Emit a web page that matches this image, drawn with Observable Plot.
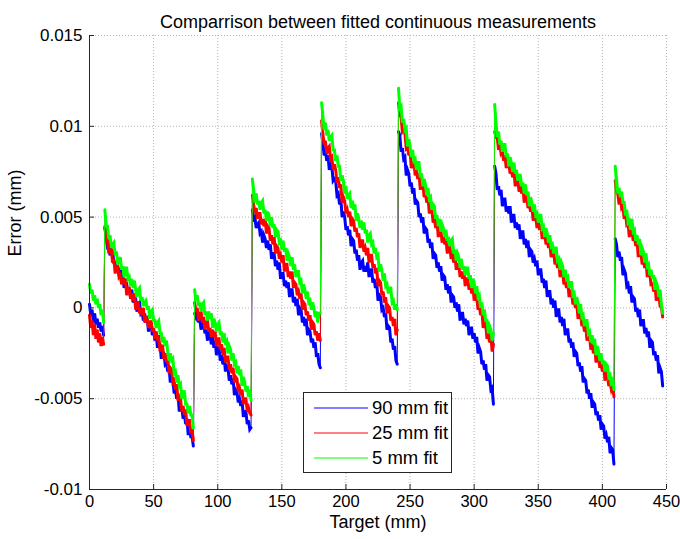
<!DOCTYPE html>
<html><head><meta charset="utf-8">
<script src="https://cdn.jsdelivr.net/npm/d3@7"></script>
<script src="https://cdn.jsdelivr.net/npm/@observablehq/plot@0.6"></script>
<style>
body{margin:0;background:#fff;}
#wrap{position:relative;width:680px;height:539px;font-family:"Liberation Sans",Arial,Helvetica,sans-serif;}
#legend{position:absolute;left:303px;top:392px;width:149px;height:81px;border:1px solid #262626;background:#fff;box-sizing:border-box;}
#legend .row{position:absolute;left:0;height:24px;width:147px;}
#legend svg{position:absolute;left:9px;top:0;}
#legend span{position:absolute;left:68px;top:1px;font-size:18.5px;line-height:22px;color:#000;white-space:nowrap;}
</style></head>
<body><div id="wrap"></div>
<script>
const chartTitle = "Comparrison between fitted continuous measurements";
const xLabel = "Target (mm)";
const yLabel = "Error (mm)";
const xTicks = [0, 50, 100, 150, 200, 250, 300, 350, 400, 450];
const yTicks = [-0.01, -0.005, 0, 0.005, 0.01, 0.015];
const seriesNames = ["90 mm fit", "25 mm fit", "5 mm fit"];
const seriesColors = ["#0000ff", "#ff0000", "#00ff00"];
// target (mm) where each continuous measurement run starts; samples every 1 mm
const segmentStart = [0, 12, 82, 127, 181, 241, 316, 410];
const targetStep = 1;

// Error (mm), 90 mm fit
const fit90 = [
[.0002,-.0004,-.0001,-.0008,-.0003,-.0009,-.0006,-.0011,-.0008,-.0013,-.001,-.0015],
[.0044,.004,.0034,.0035,.0029,.0032,.0031,.0025,.0025,.002,.0023,.0018,.0022,.0016,.0017,.0011,.0016,.0013,.0008,.0011,.0006,.001,.0003,.0006,.0005,-.0002,.0002,.0003,-.0003,-.0002,-.0007,-.0003,-.0008,-.0005,-.0013,-.0009,-.0009,-.0015,-.0012,-.0018,-.0014,-.0022,-.0019,-.002,-.0028,-.0024,-.0025,-.0031,-.003,-.0035,-.0032,-.0041,-.0038,-.0039,-.0047,-.0045,-.005,-.0047,-.0057,-.0054,-.0055,-.0061,-.0059,-.0064,-.0061,-.007,-.0066,-.0071,-.0071,-.0076],
[-.0003,-.0005,-.0002,-.0008,-.0006,-.0012,-.0009,-.0008,-.0014,-.0012,-.0018,-.0013,-.0015,-.002,-.0016,-.0022,-.0018,-.0026,-.0022,-.0022,-.0029,-.0026,-.0031,-.0027,-.0035,-.0032,-.0033,-.004,-.0037,-.0042,-.0039,-.0048,-.0045,-.0046,-.0052,-.005,-.0054,-.0051,-.006,-.0057,-.0057,-.0064,-.0062,-.0067,-.0066],
[.0054,.0049,.005,.0044,.0046,.0047,.0041,.0042,.0036,.004,.0038,.0033,.0037,.0032,.0035,.0027,.003,.003,.0023,.0026,.0021,.0025,.0016,.0019,.0019,.0012,.0015,.0011,.0014,.0006,.001,.001,.0003,.0006,.0001,.0005,-.0004,0,-.0001,-.0008,-.0005,-.001,-.0006,-.0015,-.0012,-.0013,-.0019,-.0017,-.0022,-.0019,-.0027,-.0025,-.0031,-.0033],
[.0096,.0091,.0084,.0087,.0081,.0084,.0076,.0079,.0078,.007,.0071,.007,.0062,.0063,.0057,.006,.005,.0053,.005,.0043,.0045,.004,.0043,.0034,.0038,.0037,.003,.0032,.0026,.0029,.0021,.0025,.0026,.002,.0023,.002,.0025,.0017,.0021,.0021,.0014,.0016,.0011,.0014,.0004,.0007,.0006,-.0001,0,-.0005,-.0003,-.0012,-.001,-.0011,-.0019,-.0017,-.0023,-.0021,-.0029,-.0031],
[.0097,.0095,.0086,.0088,.0082,.0083,.0073,.0076,.0074,.0067,.0069,.0063,.0066,.0057,.0059,.0058,.005,.0052,.0047,.005,.0041,.0044,.0043,.0036,.0038,.0033,.0036,.0027,.003,.0029,.0022,.0025,.002,.0023,.0015,.0018,.0017,.001,.0013,.0008,.0012,.0003,.0007,.0006,0,.0003,-.0002,.0002,-.0007,-.0003,-.0003,-.0009,-.0006,-.001,-.0007,-.0015,-.0011,-.0011,-.0017,-.0014,-.0019,-.0016,-.0025,-.0022,-.0024,-.0031,-.0029,-.0034,-.0031,-.004,-.0037,-.0038,-.0045,-.0044,-.0053],
[.0078,.0074,.0065,.0067,.0062,.0065,.0056,.006,.006,.0053,.0056,.0052,.0056,.0047,.0051,.0051,.0044,.0047,.0043,.0046,.0038,.0042,.0042,.0035,.0038,.0033,.0037,.0028,.0032,.0031,.0025,.0027,.0023,.0026,.0018,.0021,.0021,.0014,.0016,.0011,.0015,.0006,.0009,.0009,.0002,.0005,0,.0004,-.0005,-.0001,-.0001,-.0008,-.0005,-.001,-.0006,-.0015,-.0012,-.0012,-.0019,-.0017,-.0022,-.0019,-.0027,-.0024,-.0025,-.0032,-.003,-.0035,-.0032,-.0041,-.0039,-.004,-.0047,-.0045,-.005,-.0047,-.0055,-.0052,-.0053,-.0059,-.0057,-.0062,-.0059,-.0067,-.0064,-.0065,-.0072,-.007,-.0074,-.0071,-.008,-.0077,-.0078,-.0086],
[.0038,.0035,.0028,.0031,.0026,.0028,.0018,.0021,.0019,.0012,.0013,.0008,.0012,.0003,.0006,.0005,-.0002,0,-.0005,-.0001,-.001,-.0007,-.0007,-.0014,-.0011,-.0016,-.0013,-.0022,-.0018,-.0019,-.0026,-.0024,-.0029,-.0026,-.0036,-.0033,-.0035,-.0043]
];

// Error (mm), 25 mm fit
const fit25 = [
[-.0004,-.0011,-.0007,-.0015,-.0009,-.0017,-.0012,-.0019,-.0014,-.0021,-.0016,-.002],
[.0045,.0037,.0037,.003,.0032,.0032,.0025,.0027,.0019,.0023,.0023,.0017,.0018,.0013,.0017,.0013,.0016,.0007,.0011,.0011,.0005,.0008,.0004,.0008,-.0001,.0003,.0003,-.0003,0,-.0004,0,-.0008,-.0005,-.0005,-.0011,-.0009,-.0007,-.0013,-.0011,-.0017,-.0013,-.0018,-.0015,-.0024,-.0021,-.0021,-.0028,-.0025,-.003,-.0027,-.0036,-.0033,-.0034,-.0041,-.004,-.0045,-.0042,-.0051,-.0049,-.005,-.0057,-.0054,-.0059,-.0056,-.0065,-.0062,-.0062,-.0069,-.0067,-.0073],
[.0003,-.0002,0,-.0007,-.0004,-.0002,-.0008,-.0005,-.0012,-.0008,-.0007,-.0013,-.0011,-.0016,-.0012,-.0016,-.0013,-.0021,-.0017,-.0017,-.0023,-.002,-.0026,-.0022,-.003,-.0027,-.0027,-.0034,-.0031,-.0036,-.0033,-.0041,-.0038,-.0039,-.0046,-.0044,-.0048,-.0045,-.0053,-.005,-.005,-.0057,-.0055,-.0058,-.0059],
[.0062,.0057,.0052,.0055,.0049,.0052,.0052,.0046,.0049,.0045,.0049,.0041,.0045,.0044,.0037,.004,.0035,.0039,.003,.0034,.0033,.0027,.0029,.0025,.0029,.002,.0024,.0024,.0017,.002,.0016,.002,.0011,.0014,.0013,.0007,.0009,.0005,.0008,-.0001,.0003,.0002,-.0004,-.0002,-.0007,-.0004,-.0012,-.0008,-.0009,-.0015,-.0013,-.0018,-.0014,-.0018],
[.0103,.0096,.009,.0092,.0085,.0088,.0089,.0082,.0083,.0076,.0079,.0076,.0069,.0072,.0066,.0068,.0058,.0061,.0059,.0052,.0054,.005,.0053,.0045,.0049,.0048,.0042,.0044,.0039,.0041,.0033,.0037,.0037,.0031,.0033,.0029,.0033,.0025,.0029,.0029,.0022,.0024,.0019,.0022,.0012,.0015,.0014,.0007,.0009,.0003,.0006,-.0003,.0001,0,-.0007,-.0005,-.001,-.0006,-.0015,-.0012],
[.0113,.0106,.0105,.0097,.0098,.0096,.0088,.0089,.0084,.0086,.0077,.008,.008,.0073,.0075,.0071,.0074,.0065,.0069,.0068,.0061,.0063,.0058,.0061,.0052,.0055,.0054,.0047,.0049,.0044,.0048,.0039,.0043,.0043,.0036,.0039,.0035,.0038,.003,.0034,.0034,.0027,.003,.0025,.0029,.0021,.0024,.0024,.0017,.002,.0016,.002,.0012,.0016,.0016,.001,.0013,.0008,.0012,.0004,.0007,.0006,-.0001,.0001,-.0004,-.0001,-.0011,-.0008,-.0009,-.0017,-.0014,-.0019,-.0015,-.0024,-.002],
[.0097,.0094,.0094,.0087,.009,.0085,.0086,.0081,.0084,.0077,.0081,.008,.0074,.0076,.0072,.0076,.0067,.0071,.0071,.0064,.0067,.0063,.0067,.0058,.0062,.0061,.0055,.0057,.0053,.0056,.0048,.0051,.0051,.0044,.0047,.0043,.0046,.0038,.0041,.0041,.0035,.0037,.0033,.0036,.0028,.0031,.0031,.0024,.0027,.0022,.0025,.0017,.002,.002,.0013,.0015,.0011,.0014,.0006,.0009,.0008,.0002,.0004,0,.0003,-.0006,-.0003,-.0003,-.001,-.0008,-.0013,-.001,-.0018,-.0015,-.0016,-.0023,-.002,-.0025,-.0021,-.003,-.0026,-.0027,-.0033,-.0031,-.0035,-.0031,-.004,-.0036,-.0037,-.0043,-.0041,-.0045,-.0043,-.0049],
[.007,.0064,.0063,.0057,.0061,.0055,.0056,.0049,.0052,.0046,.0047,.0039,.0043,.0043,.0037,.0039,.0034,.0037,.0028,.0032,.0031,.0024,.0027,.0022,.0026,.0017,.002,.0019,.0012,.0014,.0009,.0013,.0004,.0008,.0007,.0001,.0001,-.0005]
];

// Error (mm), 5 mm fit
const fit5 = [
[.0013,.0008,.001,.0004,.0007,.0002,.0005,0,.0002,-.0004,-.0001,-.0008],
[.0054,.0045,.0045,.0038,.004,.0033,.0035,.0036,.0029,.0031,.0024,.0026,.0028,.0021,.0023,.0017,.0022,.0022,.0016,.0017,.0012,.0016,.0011,.0015,.001,.0006,.001,.0011,.0004,.0006,.0001,.0003,.0004,-.0001,.0001,-.0006,-.0002,-.0001,-.0007,-.0007,-.0011,-.0008,-.0007,-.0014,-.0014,-.0019,-.0016,-.0021,-.0018,-.0024,-.0029,-.0025,-.0029,-.0028,-.0036,-.0035,-.0041,-.0037,-.0043,-.0042,-.005,-.0046,-.0046,-.0053,-.0053,-.0058,-.0054,-.0059,-.0059,-.0066],
[.001,.0004,.0007,.0001,.0003,-.0002,.0002,.0003,-.0004,-.0002,-.0007,-.0002,-.0006,-.0003,-.0011,-.0006,-.0008,-.0013,-.0009,-.0008,-.0015,-.0013,-.0019,-.0014,-.0019,-.0018,-.0025,-.0021,-.0023,-.0029,-.0025,-.0031,-.003,-.0036,-.0032,-.0037,-.0034,-.0043,-.0038,-.0041,-.0046,-.0043,-.0049,-.0045,-.0051],
[.0071,.0065,.0058,.0063,.0057,.0059,.0054,.0058,.0059,.0052,.0054,.0048,.0053,.0051,.0045,.005,.0044,.0046,.0039,.0043,.0042,.0036,.0037,.0032,.0037,.0031,.0033,.0026,.003,.0028,.0023,.0028,.0021,.0024,.0017,.002,.002,.0014,.0015,.0008,.0013,.001,.0005,.0009,.0003,.0004,-.0001,.0003,0,-.0005,-.0002,-.0008,-.0003,-.0003],
[.0113,.0106,.0098,.0102,.0095,.0098,.0092,.0094,.0095,.0087,.0087,.0081,.0084,.0078,.0078,.007,.0073,.007,.0063,.0067,.006,.0062,.0063,.0055,.0059,.0054,.0057,.0048,.0052,.0049,.0044,.0048,.0043,.0047,.0041,.0043,.0036,.004,.0041,.0035,.0036,.003,.0033,.0028,.0029,.002,.0024,.0021,.0015,.0019,.0012,.0013,.0008,.0011,.0011,.0003,.0004,-.0001,.0002,-.0001],
[.0121,.011,.0111,.0102,.0104,.0098,.0099,.0089,.0093,.0089,.0083,.0087,.0081,.0082,.0076,.008,.008,.0072,.0074,.0067,.0071,.0068,.0062,.0066,.006,.0061,.0054,.0057,.0056,.0049,.0051,.0045,.0049,.0042,.0046,.0044,.0039,.0043,.0037,.0039,.0034,.0037,.0038,.003,.0032,.0026,.003,.0028,.0022,.0027,.0021,.0023,.0018,.0022,.0022,.0016,.0018,.0011,.0016,.0014,.0008,.0012,.0006,.0007,0,.0003,-.0004,-.0001,-.0007,-.0007,-.0014,-.001,-.0012,-.0018,-.0014],
[.0112,.0102,.0094,.0097,.009,.0092,.0086,.009,.009,.0083,.0085,.0078,.0083,.008,.0075,.008,.0074,.0076,.007,.0073,.0073,.0067,.0069,.0063,.0068,.0062,.0064,.0056,.0061,.0058,.0053,.0057,.0051,.0052,.0047,.0051,.0051,.0044,.0045,.0039,.0044,.0041,.0036,.004,.0034,.0035,.003,.0033,.0033,.0026,.0027,.0021,.0025,.0023,.0017,.0021,.0016,.0017,.0011,.0014,.0014,.0007,.0008,.0002,.0006,.0003,-.0003,.0002,-.0005,-.0004,-.001,-.0007,-.0007,-.0014,-.0013,-.0019,-.0015,-.002,-.0017,-.0026,-.0021,-.0024,-.0029,-.0025,-.0031,-.0029,-.0035,-.0031,-.0032,-.0038,-.0037,-.0043,-.0038,-.0045],
[.0078,.0071,.0063,.0066,.0061,.0064,.0058,.0058,.0051,.0054,.0047,.0048,.0043,.0049,.0042,.0043,.0037,.004,.0035,.0038,.0029,.0033,.0031,.0025,.003,.0023,.0024,.0018,.0021,.0016,.0018,.001,.0014,.0012,.0006,.001,.0002,-.0003]
];

const seriesValues = [fit90, fit25, fit5];
const rows = [];
seriesValues.forEach((segs, s) => {
  segs.forEach((seg, k) => {
    seg.forEach((v, i) => rows.push({target: segmentStart[k] + i * targetStep, error: v, series: seriesNames[s], run: seriesNames[s] + "#" + k}));
  });
});

const W = 680, H = 539, mL = 89, mR = 14, mT = 35, mB = 50;
const axisColor = "#262626";
const gridStyle = {stroke: "#b4b4b4", strokeOpacity: 1, strokeWidth: 1, strokeDasharray: "1,2"};

// per series: a wider stroke within each continuous run (dense noisy band), then a thin stroke joining the runs
const lineMarks = seriesNames.flatMap(name => {
  const data = rows.filter(r => r.series === name);
  return [
    Plot.line(data, {x: "target", y: "error", z: "run", stroke: "series", strokeWidth: 3, strokeLinejoin: "miter", strokeMiterlimit: 4}),
    Plot.line(data, {x: "target", y: "error", z: "series", stroke: "series", strokeWidth: 1})
  ];
});

const plot = Plot.plot({
  width: W, height: H,
  marginLeft: mL, marginRight: mR, marginTop: mT, marginBottom: mB,
  style: {fontFamily: '"Liberation Sans", Arial, Helvetica, sans-serif', fontSize: "17px", color: "#000", background: "#fff", overflow: "visible"},
  x: {domain: [0, 450], ticks: xTicks},
  y: {domain: [-0.01, 0.015], ticks: yTicks},
  color: {domain: seriesNames, range: seriesColors},
  marks: [
    Plot.gridX(xTicks, gridStyle),
    Plot.gridY(yTicks, gridStyle),
    ...lineMarks,
    Plot.ruleX([0], {stroke: axisColor, strokeWidth: 1}),
    Plot.ruleY([-0.01], {stroke: axisColor, strokeWidth: 1}),
    Plot.tickX(xTicks, {x: d => d, insetTop: H - mT - mB - 5, stroke: axisColor}),
    Plot.tickY(yTicks, {y: d => d, insetRight: W - mL - mR - 5, stroke: axisColor}),
    Plot.axisX(xTicks, {tickSize: 0, tickPadding: 6, label: null, tickFormat: d => String(d), fontSize: 16.5, fill: "#000"}),
    Plot.axisY(yTicks, {tickSize: 0, tickPadding: 7, label: null, tickFormat: d => String(d), fontSize: 17, fill: "#000"}),
    Plot.text([chartTitle], {frameAnchor: "top", dy: -20, fontSize: 18, fill: "#000"}),
    Plot.text([xLabel], {frameAnchor: "bottom", dy: 38, fontSize: 18, fill: "#000"}),
    Plot.text([yLabel], {frameAnchor: "left", dx: -74, dy: -6, rotate: -90, fontSize: 18, fill: "#000"})
  ]
});

const wrap = document.getElementById("wrap");
wrap.appendChild(plot);

const legend = document.createElement("div");
legend.id = "legend";
seriesNames.forEach((name, i) => {
  const row = document.createElement("div");
  row.className = "row";
  row.style.top = (3 + i * 25) + "px";
  row.innerHTML = `<svg width="56" height="24"><line x1="1" x2="55" y1="12" y2="12" stroke="${seriesColors[i]}" stroke-width="1"/></svg><span>${name}</span>`;
  legend.appendChild(row);
});
wrap.appendChild(legend);
</script>
</body></html>
